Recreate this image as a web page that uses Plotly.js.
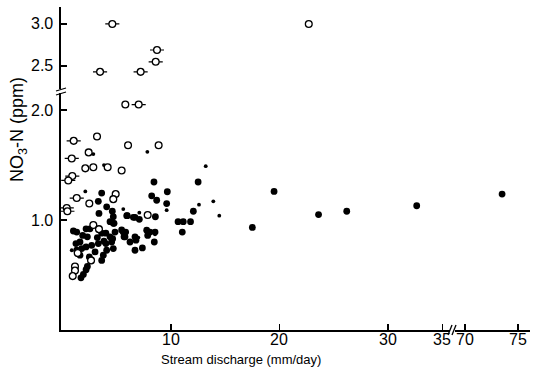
<!DOCTYPE html>
<html>
<head>
<meta charset="utf-8">
<script src="https://cdn.plot.ly/plotly-3.0.1.min.js"></script>
<style>html,body{margin:0;padding:0;background:#fff;}#chart{width:534px;height:370px;}</style>
</head>
<body>
<div id="chart"></div>
<script>
// Open circles with horizontal range bars
const openBarX = [4.59, 8.71, 8.59, 3.46, 7.2, 7.02, 1.03, 0.85, 0.9, 0.53, 1.31, 0.39, 0.45];
const openBarY = [3.0, 2.69, 2.55, 2.43, 2.43, 2.05, 1.72, 1.56, 1.40, 1.36, 1.20, 1.11, 1.08];
// Open circles without bars
const openX = [22.7, 5.79, 3.18, 6.04, 8.86, 2.41, 2.10, 2.84, 4.16, 5.45, 2.47, 4.9, 4.68, 7.85, 2.84, 3.36, 1.4, 2.63, 1.15, 1.15, 0.94];
const openY = [3.0, 2.05, 1.76, 1.68, 1.68, 1.615, 1.47, 1.48, 1.48, 1.45, 1.15, 1.236, 1.19, 1.046, 0.955, 0.917, 0.70, 0.633, 0.578, 0.54, 0.49];
// Large filled circles
const filledX = [3.61, 3.3, 3.36, 4.07, 4.59, 8.43, 9.66, 12.5, 8.22, 8.68, 9.6, 5.97, 6.68, 7.08, 8.56, 10.65, 11.13, 11.8, 11.04, 12.06, 4.38, 4.68, 19.5, 17.5, 23.6, 26.2, 32.65, 73.5,
  1.0, 1.31, 2.17, 2.53, 1.86, 2.29, 3.61, 3.21, 4.0, 4.84, 4.38, 3.82, 1.24, 1.61, 1.31, 1.77, 1.61, 2.17, 2.69, 3.0, 2.47, 3.3, 4.0, 4.07, 3.61, 3.76, 4.53, 4.68,
  5.45, 5.82, 5.67, 6.22, 6.77, 6.68, 7.36, 7.76, 8.06, 8.53, 8.46, 1.7, 1.92, 2.17, 2.29, 4.68, 4.62, 5.92, 6.53, 5.6, 5.76, 6.68, 7.85, 4.75];
const filledY = [1.245, 1.17, 1.06, 1.12, 1.08, 1.346, 1.257, 1.346, 1.22, 1.18, 1.15, 1.04, 1.025, 1.006, 1.03, 0.985, 0.985, 0.985, 0.89, 1.08, 0.985, 0.97, 1.26, 0.933, 1.05, 1.08, 1.13, 1.236,
  0.90, 0.89, 0.92, 0.92, 0.86, 0.847, 0.88, 0.84, 0.88, 0.89, 0.847, 0.807, 0.786, 0.80, 0.725, 0.74, 0.68, 0.755, 0.77, 0.71, 0.664, 0.786, 0.786, 0.725, 0.633, 0.68, 0.80, 0.74,
  0.91, 0.89, 0.847, 0.80, 0.817, 0.725, 0.746, 0.908, 0.89, 0.89, 0.80, 0.474, 0.505, 0.548, 0.578, 1.03, 0.83, 1.04, 1.025, 0.89, 0.847, 0.847, 0.86, 0.97];
// Small filled dots
const smallX = [2.84, 7.82, 13.2, 3.82, 2.1, 5.6, 9.6, 12.58, 7.08, 6.99, 0.85, 13.9, 14.45, 8.53];
const smallY = [1.60, 1.62, 1.49, 1.50, 1.26, 1.10, 1.09, 1.14, 1.067, 0.84, 0.725, 1.17, 1.04, 0.87];

const X_TICKS_1 = [10, 20, 30, 35];
const X_TICKS_2 = [70, 75];
const Y_TICKS_LOW = [1, 2];
const Y_TICKS_HIGH = [2.5, 3];
const Y_LABELS_LOW = ['1.0', '2.0'];
const Y_LABELS_HIGH = ['2.5', '3.0'];

const Y_BREAK = 2.2, X_BREAK = 50;
const FONT = 'Liberation Sans, Arial, sans-serif';

function split(xs, ys) {
  const parts = {};
  xs.forEach((x, i) => {
    const xa = x > X_BREAK ? 'x2' : 'x';
    const ya = ys[i] > Y_BREAK ? 'y2' : 'y';
    const k = xa + ya;
    if (!parts[k]) parts[k] = {xa, ya, x: [], y: []};
    parts[k].x.push(x); parts[k].y.push(ys[i]);
  });
  return Object.values(parts);
}

const traces = [];
function addSeries(xs, ys, marker, extra) {
  split(xs, ys).forEach(p => {
    traces.push(Object.assign({
      type: 'scatter', mode: 'markers', x: p.x, y: p.y,
      xaxis: p.xa, yaxis: p.ya, marker: marker, showlegend: false, hoverinfo: 'skip', cliponaxis: false
    }, extra || {}));
  });
}
addSeries(filledX, filledY, {symbol: 'circle', size: 6.8, color: '#000'});
addSeries(smallX, smallY, {symbol: 'circle', size: 3.8, color: '#000'});
addSeries(openX, openY, {symbol: 'circle', size: 6.8, color: '#fff', line: {color: '#000', width: 1.3}});
addSeries(openBarX, openBarY, {symbol: 'circle', size: 6.8, color: '#fff', line: {color: '#000', width: 1.3}},
  {error_x: {type: 'constant', value: 0.65, width: 0, thickness: 1.2, color: '#000'}});

const W = 469, H = 323, L = 61, B = 330;
const px = v => (v - L) / W;
const py = v => (B - v) / H;

const axisCommon = {
  showline: true, linecolor: '#000', linewidth: 2, ticks: 'inside', ticklen: 6, tickwidth: 1.3,
  tickcolor: '#000', showgrid: false, zeroline: false, fixedrange: true, showticklabels: false
};

const line = (x0, y0, x1, y1) => ({type: 'line', xref: 'paper', yref: 'paper',
  x0: px(x0), y0: py(y0), x1: px(x1), y1: py(y1), line: {color: '#000', width: 1.3}});

const tickFont = {family: FONT, size: 16, color: '#000'};
const annotations = [];
X_TICKS_1.forEach(v => annotations.push({text: String(v), xref: 'x', yref: 'paper', x: v, y: py(329),
  xanchor: 'center', yanchor: 'top', showarrow: false, font: tickFont}));
X_TICKS_2.forEach(v => annotations.push({text: String(v), xref: 'x2', yref: 'paper', x: v, y: py(329),
  xanchor: 'center', yanchor: 'top', showarrow: false, font: tickFont}));
Y_TICKS_LOW.forEach((v, i) => annotations.push({text: Y_LABELS_LOW[i], xref: 'paper', yref: 'y', x: px(55), y: v,
  xanchor: 'right', yanchor: 'middle', showarrow: false, font: tickFont}));
Y_TICKS_HIGH.forEach((v, i) => annotations.push({text: Y_LABELS_HIGH[i], xref: 'paper', yref: 'y2', x: px(55), y: v,
  xanchor: 'right', yanchor: 'middle', showarrow: false, font: tickFont}));
annotations.push(
  {text: 'Stream discharge (mm/day)', xref: 'paper', yref: 'paper', x: px(241), y: py(359),
   xanchor: 'center', yanchor: 'middle', showarrow: false,
   font: {family: FONT, size: 13, color: '#000'}},
  {text: 'NO<sub>3</sub>-N (ppm)', xref: 'paper', yref: 'paper', x: px(18), y: py(130),
   xanchor: 'center', yanchor: 'middle', textangle: -90, showarrow: false,
   font: {family: FONT, size: 18, color: '#000'}}
);

const layout = {
  width: 534, height: 370,
  margin: {l: 61, r: 4, t: 7, b: 40},
  paper_bgcolor: '#fff', plot_bgcolor: '#fff',
  xaxis: Object.assign({}, axisCommon, {domain: [0, 0.829], range: [-0.14, 35.7], tickvals: X_TICKS_1, anchor: 'y'}),
  xaxis2: Object.assign({}, axisCommon, {domain: [0.840, 1], range: [69.06, 76.13], tickvals: X_TICKS_2, anchor: 'y'}),
  yaxis: Object.assign({}, axisCommon, {domain: [0, 0.7337], range: [0, 2.155], tickvals: Y_TICKS_LOW, anchor: 'x'}),
  yaxis2: Object.assign({}, axisCommon, {domain: [0.7461, 1], range: [2.226, 3.202], tickvals: Y_TICKS_HIGH, anchor: 'x'}),
  shapes: [
    line(448, 335, 452, 325), line(452, 335, 456, 325),
    line(56, 91, 66, 88), line(56, 95, 66, 92)
  ],
  annotations: annotations
};

Plotly.newPlot('chart', traces, layout, {displayModeBar: false, staticPlot: true});
</script>
</body>
</html>
